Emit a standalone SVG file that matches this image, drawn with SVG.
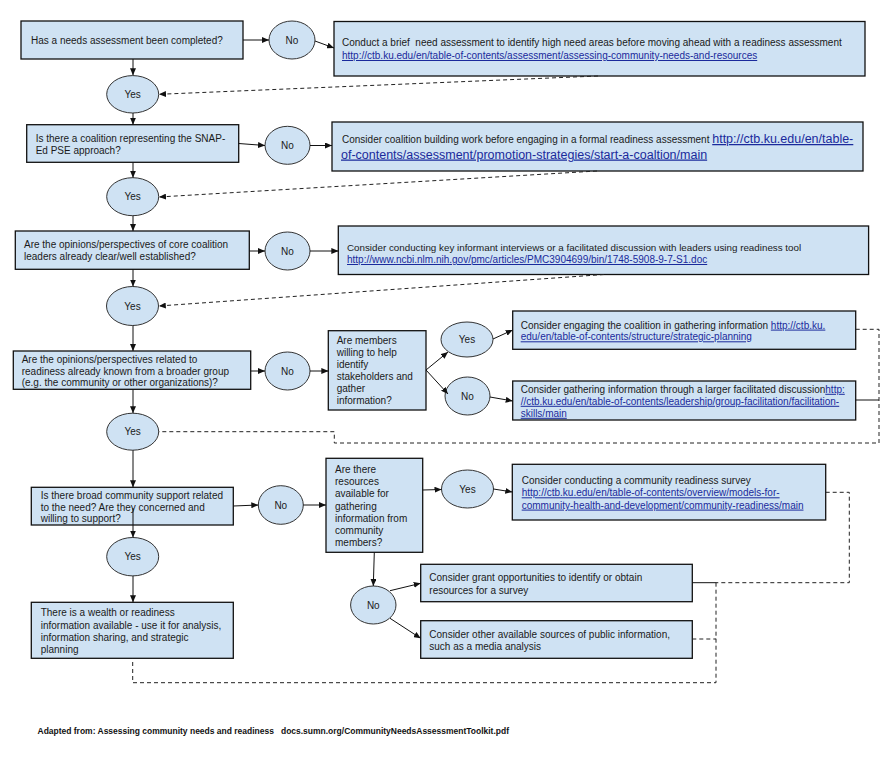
<svg xmlns="http://www.w3.org/2000/svg" width="884" height="757" viewBox="0 0 884 757">
<defs>
<marker id="ah" markerUnits="userSpaceOnUse" markerWidth="7" markerHeight="6" refX="7" refY="3" orient="auto">
<path d="M0,0 L7,3 L0,6 z" fill="#111"/>
</marker>
<style>
.box{fill:#cfe2f3;stroke:#111;stroke-width:1.3}
.ell{fill:#cfe2f3;stroke:#333;stroke-width:1}
.t{font-family:"Liberation Sans",Arial,sans-serif;font-size:10px;fill:#1a1a1a}
.c{text-anchor:middle}
.pre{white-space:pre}
.lk{fill:#1a2a9c;text-decoration:underline}
.ln{fill:none;stroke:#111;stroke-width:1}
.ds{fill:none;stroke:#222;stroke-width:1;stroke-dasharray:4 3}
</style>
</defs>
<rect width="884" height="757" fill="#fff"/>

<g id="nodes">
<g id="q1"><rect class="box" x="21" y="21" width="222" height="38"/>
<text class="t" x="31" y="44">Has a needs assessment been completed?</text></g>
<g id="no1"><ellipse class="ell" cx="292" cy="40" rx="23" ry="19"/><text class="t c" x="292" y="43.6">No</text></g>
<g id="r1"><rect class="box" x="334" y="21.5" width="531" height="54.5"/>
<text class="t pre" x="342" y="46.3" xml:space="preserve">Conduct a brief  need assessment to identify high need areas before moving ahead with a readiness assessment</text>
<text class="t lk" x="342" y="59">http://ctb.ku.edu/en/table-of-contents/assessment/assessing-community-needs-and-resources</text></g>
<g id="yes1"><ellipse class="ell" cx="132.7" cy="94.3" rx="26" ry="18.7"/><text class="t c" x="132.7" y="97.9">Yes</text></g>

<g id="q2"><rect class="box" x="26.7" y="124.7" width="212" height="37.6"/>
<text class="t" x="35.7" y="141.5">Is there a coalition representing the SNAP-</text>
<text class="t" x="35.7" y="153.5">Ed PSE approach?</text></g>
<g id="no2"><ellipse class="ell" cx="287.5" cy="145.3" rx="22.5" ry="19"/><text class="t c" x="287.5" y="148.9">No</text></g>
<g id="r2"><rect class="box" x="332" y="122" width="531" height="49"/>
<text class="t" x="342" y="143">Consider coalition building work before engaging in a formal readiness assessment <tspan class="lk" style="font-size:12.5px">http://ctb.ku.edu/en/table-</tspan></text>
<text class="t lk" x="341" y="158.5" style="font-size:12.5px">of-contents/assessment/promotion-strategies/start-a-coaltion/main</text></g>
<g id="yes2"><ellipse class="ell" cx="132.7" cy="196.7" rx="26" ry="19"/><text class="t c" x="132.7" y="200.3">Yes</text></g>

<g id="q3"><rect class="box" x="15.3" y="231" width="234" height="38.3"/>
<text class="t" x="24" y="248.3">Are the opinions/perspectives of core coalition</text>
<text class="t" x="24" y="260">leaders already clear/well established?</text></g>
<g id="no3"><ellipse class="ell" cx="287.5" cy="251" rx="22.5" ry="19"/><text class="t c" x="287.5" y="254.6">No</text></g>
<g id="r3"><rect class="box" x="338.3" y="226" width="530.3" height="48.5"/>
<text class="t" x="347" y="250.6" style="font-size:9.8px">Consider conducting key informant interviews or a facilitated discussion with leaders using readiness tool</text>
<text class="t lk" x="347" y="263">http://www.ncbi.nlm.nih.gov/pmc/articles/PMC3904699/bin/1748-5908-9-7-S1.doc</text></g>
<g id="yes3"><ellipse class="ell" cx="132.5" cy="306" rx="26" ry="19.5"/><text class="t c" x="132.5" y="309.6">Yes</text></g>

<g id="q4"><rect class="box" x="13.3" y="351" width="237.4" height="38.3"/>
<text class="t" x="21.7" y="362.6">Are the opinions/perspectives related to</text>
<text class="t" x="21.7" y="374.6">readiness already known from a broader group</text>
<text class="t" x="21.7" y="386.3">(e.g. the community or other organizations)?</text></g>
<g id="no4"><ellipse class="ell" cx="287.5" cy="371" rx="22.5" ry="19"/><text class="t c" x="287.5" y="374.6">No</text></g>
<g id="q4b"><rect class="box" x="328.3" y="330.7" width="97.7" height="79.3"/>
<text class="t" x="336.7" y="343.6">Are members</text>
<text class="t" x="336.7" y="355.6">willing to help</text>
<text class="t" x="336.7" y="367.6">identify</text>
<text class="t" x="336.7" y="379.6">stakeholders and</text>
<text class="t" x="336.7" y="391.6">gather</text>
<text class="t" x="336.7" y="403.6">information?</text></g>
<g id="yes4b"><ellipse class="ell" cx="467" cy="339.5" rx="26" ry="17.5"/><text class="t c" x="467" y="343.1">Yes</text></g>
<g id="no4b"><ellipse class="ell" cx="467.5" cy="396" rx="22.5" ry="19"/><text class="t c" x="467.5" y="399.6">No</text></g>
<g id="r4a"><rect class="box" x="512.7" y="311" width="343" height="38.3"/>
<text class="t" x="520.7" y="328.6">Consider engaging the coalition in gathering information <tspan class="lk">http://ctb.ku.</tspan></text>
<text class="t lk" x="520.7" y="340.3">edu/en/table-of-contents/structure/strategic-planning</text></g>
<g id="r4b"><rect class="box" x="512.7" y="381" width="343" height="39"/>
<text class="t" x="520.7" y="392.8">Consider gathering information through a larger facilitated discussion<tspan class="lk">http:</tspan></text>
<text class="t lk" x="520.7" y="404.8">//ctb.ku.edu/en/table-of-contents/leadership/group-facilitation/facilitation-</text>
<text class="t lk" x="520.7" y="416.8">skills/main</text></g>
<g id="yes4"><ellipse class="ell" cx="132.7" cy="431.7" rx="26" ry="18.5"/><text class="t c" x="132.7" y="435.3">Yes</text></g>

<g id="q5"><rect class="box" x="31.3" y="487.3" width="202" height="37.7"/>
<text class="t" x="40.7" y="498.6">Is there broad community support related</text>
<text class="t" x="40.7" y="510.6">to the need? Are they concerned and</text>
<text class="t" x="40.7" y="522.3">willing to support?</text></g>
<g id="no5"><ellipse class="ell" cx="280.8" cy="505" rx="22.5" ry="19.3"/><text class="t c" x="280.8" y="508.6">No</text></g>
<g id="q5b"><rect class="box" x="326" y="458.3" width="96.7" height="94"/>
<text class="t" x="335" y="472.6">Are there</text>
<text class="t" x="335" y="484.9">resources</text>
<text class="t" x="335" y="497.2">available for</text>
<text class="t" x="335" y="509.5">gathering</text>
<text class="t" x="335" y="521.8">information from</text>
<text class="t" x="335" y="534.1">community</text>
<text class="t" x="335" y="546.4">members?</text></g>
<g id="yes5b"><ellipse class="ell" cx="467.5" cy="489" rx="26" ry="19"/><text class="t c" x="467.5" y="492.6">Yes</text></g>
<g id="r5a"><rect class="box" x="512.3" y="464.3" width="313.4" height="55.7"/>
<text class="t" x="521.7" y="483.6">Consider conducting a community readiness survey</text>
<text class="t lk" x="521.7" y="496.3">http://ctb.ku.edu/en/table-of-contents/overview/models-for-</text>
<text class="t lk" x="521.7" y="508.6">community-health-and-development/community-readiness/main</text></g>
<g id="no5b"><ellipse class="ell" cx="373.3" cy="605" rx="22.7" ry="19"/><text class="t c" x="373.3" y="608.6">No</text></g>
<g id="r5b"><rect class="box" x="420.7" y="564.3" width="271.6" height="37.4"/>
<text class="t" x="429.3" y="581.3">Consider grant opportunities to identify or obtain</text>
<text class="t" x="429.3" y="593.6">resources for a survey</text></g>
<g id="r5c"><rect class="box" x="420.7" y="620.7" width="271.6" height="37.6"/>
<text class="t" x="429.3" y="637.6">Consider other available sources of public information,</text>
<text class="t" x="429.3" y="649.6">such as a media analysis</text></g>
<g id="yes5"><ellipse class="ell" cx="132.7" cy="556.7" rx="26" ry="19.2"/><text class="t c" x="132.7" y="560.3">Yes</text></g>
<g id="r6"><rect class="box" x="31.3" y="602.3" width="202" height="56"/>
<text class="t" x="40.7" y="616.3">There is a wealth or readiness</text>
<text class="t" x="40.7" y="628.6">information available - use it for analysis,</text>
<text class="t" x="40.7" y="640.9">information sharing, and strategic</text>
<text class="t" x="40.7" y="652.6">planning</text></g>
</g>

<g id="connectors">
<line class="ln" x1="133" y1="59" x2="133" y2="75.3" marker-end="url(#ah)"/>
<line class="ln" x1="243" y1="40" x2="269" y2="40" marker-end="url(#ah)"/>
<line class="ln" x1="315" y1="41" x2="334" y2="48" marker-end="url(#ah)"/>
<line class="ln" x1="133" y1="113" x2="133" y2="124.7" marker-end="url(#ah)"/>
<line class="ln" x1="238.7" y1="143.5" x2="265" y2="145.5" marker-end="url(#ah)"/>
<line class="ln" x1="310" y1="145.5" x2="332" y2="145.5" marker-end="url(#ah)"/>
<line class="ln" x1="133" y1="162.3" x2="133" y2="177.7" marker-end="url(#ah)"/>
<line class="ln" x1="133" y1="215.7" x2="133" y2="231" marker-end="url(#ah)"/>
<line class="ln" x1="249.3" y1="251" x2="265" y2="251" marker-end="url(#ah)"/>
<line class="ln" x1="310" y1="251" x2="338.3" y2="251" marker-end="url(#ah)"/>
<line class="ln" x1="133" y1="269.3" x2="133" y2="286.5" marker-end="url(#ah)"/>
<line class="ln" x1="133" y1="325.5" x2="133" y2="351" marker-end="url(#ah)"/>
<line class="ln" x1="250.7" y1="371" x2="265" y2="371" marker-end="url(#ah)"/>
<line class="ln" x1="310" y1="371" x2="328.3" y2="371" marker-end="url(#ah)"/>
<line class="ln" x1="426" y1="370" x2="448" y2="352" marker-end="url(#ah)"/>
<line class="ln" x1="426" y1="370" x2="448" y2="394" marker-end="url(#ah)"/>
<line class="ln" x1="493" y1="339" x2="512.7" y2="330" marker-end="url(#ah)"/>
<line class="ln" x1="490" y1="397" x2="512.7" y2="401" marker-end="url(#ah)"/>
<line class="ln" x1="133" y1="389.3" x2="133" y2="413.2" marker-end="url(#ah)"/>
<line class="ln" x1="133" y1="450.2" x2="133" y2="487.3" marker-end="url(#ah)"/>
<line class="ln" x1="133" y1="508" x2="133" y2="537.5" marker-end="url(#ah)"/>
<line class="ln" x1="133" y1="575.9" x2="133" y2="602.3" marker-end="url(#ah)"/>
<line class="ln" x1="233.3" y1="506" x2="258.3" y2="505" marker-end="url(#ah)"/>
<line class="ln" x1="303.3" y1="505" x2="326" y2="505" marker-end="url(#ah)"/>
<line class="ln" x1="422.7" y1="490" x2="441.5" y2="489.5" marker-end="url(#ah)"/>
<line class="ln" x1="493.5" y1="489" x2="512.3" y2="492" marker-end="url(#ah)"/>
<line class="ln" x1="374.3" y1="552.3" x2="373.3" y2="586" marker-end="url(#ah)"/>
<line class="ln" x1="390" y1="590.7" x2="420.7" y2="583.3" marker-end="url(#ah)"/>
<line class="ln" x1="390" y1="618.3" x2="420.7" y2="638.3" marker-end="url(#ah)"/>
<line class="ln" x1="855.7" y1="400" x2="879" y2="400"/>
<line class="ln" x1="692.3" y1="582.7" x2="716" y2="582.7"/>
<line class="ds" x1="598" y1="76" x2="159" y2="94.3" marker-end="url(#ah)"/>
<line class="ds" x1="597" y1="171" x2="159" y2="197" marker-end="url(#ah)"/>
<line class="ds" x1="604" y1="274.5" x2="158.8" y2="306" marker-end="url(#ah)"/>
<polyline class="ds" points="855.7,329.3 879,329.3 879,443 334.3,443 334.3,431.7 158.7,431.7"/>
<polyline class="ds" points="825.7,492.3 849.3,492.3 849.3,582.7 716,582.7"/>
<line class="ds" x1="692.3" y1="639" x2="716" y2="639"/>
<polyline class="ds" points="716,582.7 716,682.7 132.7,682.7 132.7,658.3"/>
</g>

<text class="t pre" x="37.5" y="733.5" xml:space="preserve" style="font-size:9px;font-weight:bold;fill:#111" textLength="471.5" lengthAdjust="spacingAndGlyphs">Adapted from: Assessing community needs and readiness   docs.sumn.org/CommunityNeedsAssessmentToolkit.pdf</text>
</svg>
